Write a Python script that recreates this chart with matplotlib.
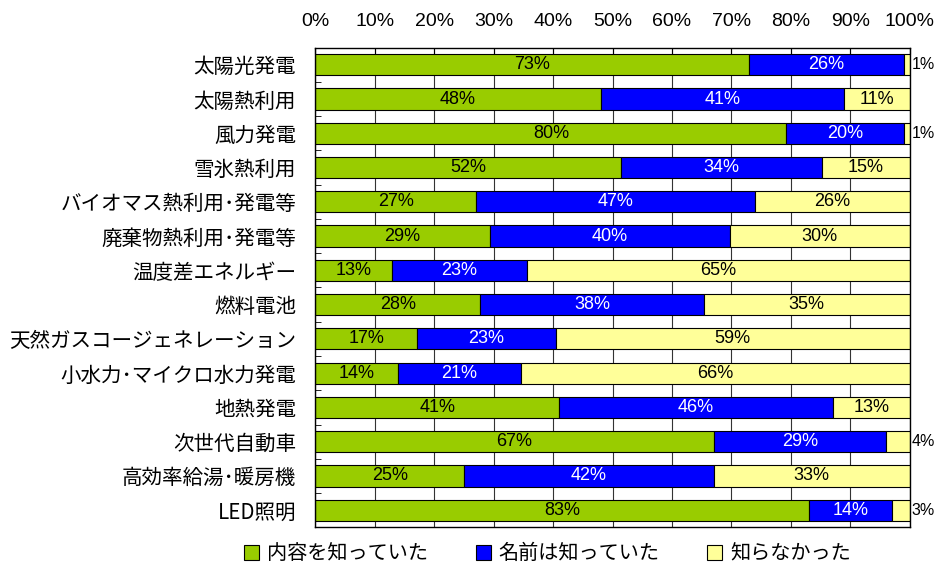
import numpy as np
import matplotlib.pyplot as plt
from matplotlib.patches import Patch

plt.rcParams['font.family'] = ['Noto Sans CJK JP', 'DejaVu Sans']

# Data
categories = ["太陽光発電", "太陽熱利用", "風力発電", "雪氷熱利用", "バイオマス熱利用･発電等",
              "廃棄物熱利用･発電等", "温度差エネルギー", "燃料電池", "天然ガスコージェネレーション",
              "小水力･マイクロ水力発電", "地熱発電", "次世代自動車", "高効率給湯･暖房機", "LED照明"]
knew_content = [73, 48, 80, 52, 27, 29, 13, 28, 17, 14, 41, 67, 25, 83]
knew_name = [26, 41, 20, 34, 47, 40, 23, 38, 23, 21, 46, 29, 42, 14]
did_not_know = [1, 11, 1, 15, 26, 30, 65, 35, 59, 66, 13, 4, 33, 3]
series_names = ["内容を知っていた", "名前は知っていた", "知らなかった"]
colors = ["#99CC00", "#0000FF", "#FFFF99"]
text_colors = ["black", "white", "black"]

num_font = ['Liberation Sans Narrow', 'Liberation Sans', 'DejaVu Sans']

vals = np.array([knew_content, knew_name, did_not_know], dtype=float)
totals = vals.sum(axis=0)
shares = vals / totals * 100  # bars drawn normalised to 100%

fig = plt.figure(figsize=(9.36, 5.67), dpi=100)
ax = fig.add_axes([0.337, 0.07, 0.635, 0.846])

y = np.arange(len(categories))
left = np.zeros(len(categories))
for i in range(3):
    ax.barh(y, shares[i], left=left, height=0.62, color=colors[i],
            edgecolor="black", linewidth=0.8, zorder=2)
    for j in range(len(categories)):
        if vals[i, j] >= 5:
            ax.text(left[j] + shares[i, j] / 2, y[j], f"{int(vals[i, j])}%",
                    ha="center", va="center", color=text_colors[i],
                    fontsize=13, family=num_font, zorder=3)
        elif i == 2:
            # small shares are labelled outside the bar, right of the axes
            ax.text(100.3, y[j], f"{int(vals[i, j])}%", ha="left", va="center",
                    fontsize=11.5, family=num_font, clip_on=False)
    left += shares[i]

ax.set_xlim(0, 100)
ax.set_ylim(len(categories) - 0.5, -0.5)
ax.set_xticks(np.arange(0, 101, 10))
ax.set_xticklabels([f"{v}%" for v in range(0, 101, 10)], family=num_font, fontsize=14)
ax.xaxis.tick_top()
ax.tick_params(axis="x", which="major", direction="in", length=4, pad=13)
ax.set_yticks(y)
ax.set_yticklabels(categories, fontsize=14.8)
ax.tick_params(axis="y", which="major", length=0, pad=14)
ax.set_yticks(np.arange(-0.5, len(categories), 1), minor=True)
ax.tick_params(axis="y", which="minor", direction="in", length=4)
ax.grid(axis="x", color="#333333", linewidth=0.8, zorder=0)
ax.set_axisbelow(True)
for s in ax.spines.values():
    s.set_linewidth(1.0)

handles = [Patch(facecolor=c, edgecolor="black", linewidth=0.8) for c in colors]
fig.legend(handles, series_names, loc="lower center", bbox_to_anchor=(0.585, -0.027),
           ncol=3, frameon=False, fontsize=14.5, handlelength=0.75, handleheight=0.75,
           handletextpad=0.4, columnspacing=2.35)

fig.savefig("out.png", dpi=100)
